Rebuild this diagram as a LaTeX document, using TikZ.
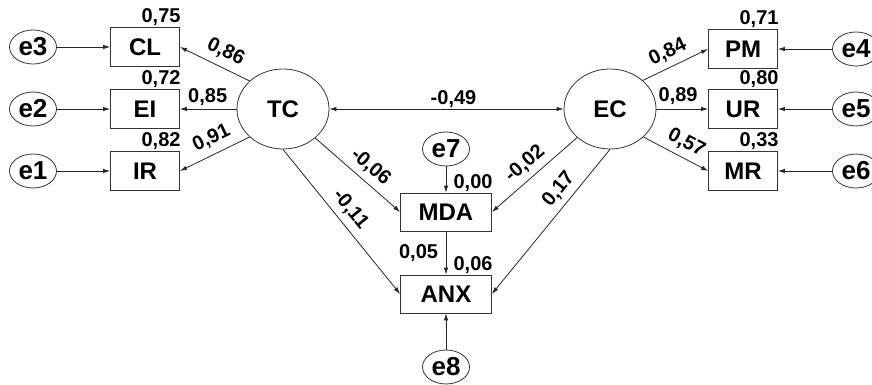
\documentclass[tikz,border=0pt]{standalone}
\usepackage{fontspec}
\setmainfont{Liberation Sans}
\usetikzlibrary{arrows.meta,shapes.geometric}

\begin{document}
\begin{tikzpicture}[x=1pt, y=-1pt, line width=0.8pt, arrows={-Latex[length=7pt,width=4.5pt]},
	obs/.style={draw=black!80, minimum width=69pt, minimum height=39pt, inner sep=0pt, font=\fontsize{24}{26}\selectfont\bfseries},
	wide/.style={obs, minimum width=91pt, minimum height=38pt},
	err/.style={draw=black!80, ellipse, minimum width=47pt, minimum height=34pt, inner sep=0pt, font=\fontsize{26}{28}\selectfont\bfseries},
	lat/.style={err, minimum width=92pt, minimum height=80pt, font=\fontsize{24}{26}\selectfont\bfseries},
	coef/.style={inner sep=1pt, font=\fontsize{20}{22}\selectfont\bfseries},
	r2/.style={coef, anchor=south east, xshift=2pt},
	lk/.style={draw=black!85}]
	\useasboundingbox (0,0) rectangle (872,385);

	% error terms and indicators
	\node[err] (e3) at (33,47) {e3};
	\node[err] (e2) at (33,109) {e2};
	\node[err] (e1) at (33,171) {e1};
	\node[obs] (CL) at (145,47) {CL};
	\node[obs] (EI) at (145,109) {EI};
	\node[obs] (IR) at (145,171) {IR};
	\node[obs] (PM) at (743,49) {PM};
	\node[obs] (UR) at (743,109) {UR};
	\node[obs] (MR) at (743,171) {MR};
	\node[err] (e4) at (856,49) {e4};
	\node[err] (e5) at (856,109) {e5};
	\node[err] (e6) at (856,171) {e6};

	% latent variables
	\node[lat] (TC) at (283,109) {TC};
	\node[lat] (EC) at (610,109) {EC};

	% mediator and outcome
	\node[err] (e7) at (446,149) {e7};
	\node[wide] (MDA) at (446,212) {MDA};
	\node[wide] (ANX) at (446,294) {ANX};
	\node[err] (e8) at (446,367) {e8};

	% squared multiple correlations
	\node[r2] (rCL) at (CL.north east) {0,75};
	\node[r2] (rEI) at (EI.north east) {0,72};
	\node[r2] (rIR) at (IR.north east) {0,82};
	\node[r2] (rPM) at (PM.north east) {0,71};
	\node[r2] (rUR) at (UR.north east) {0,80};
	\node[r2] (rMR) at (MR.north east) {0,33};
	\node[r2] (rMDA) at (MDA.north east) {0,00};
	\node[r2] (rANX) at (ANX.north east) {0,06};

	\draw[lk] (e3) to (CL);
	\draw[lk] (e2) to (EI);
	\draw[lk] (e1) to (IR);
	\draw[lk] (e4) to (PM);
	\draw[lk] (e5) to (UR);
	\draw[lk] (e6) to (MR);
	\draw[lk] (e7) to (MDA);
	\draw[lk] (e8) to (ANX);

	\draw[lk] (TC.140) to node [coef, sloped, above, pos=0.44, outer sep=6pt] (c86) {0,86} (CL.east);
	\draw[lk] (TC) to node [coef, above, pos=0.51, outer sep=2pt] (c85) {0,85} (EI);
	\draw[lk] (TC.220) to node [coef, sloped, above, pos=0.45, outer sep=6pt] (c91) {0,91} (IR.east);
	\draw[lk] (EC.41) to node [coef, sloped, above, pos=0.48, outer sep=5pt] (c84) {0,84} (PM.west);
	\draw[lk] (EC) to node [coef, above, pos=0.42, outer sep=3pt] (c89) {0,89} (UR);
	\draw[lk] (EC.-40) to node [coef, sloped, above, pos=0.56, outer sep=5pt] (c57) {0,57} (MR.west);

	\draw[lk, {Latex[length=7pt,width=4.5pt]}-{Latex[length=7pt,width=4.5pt]}] (TC) to node [coef, above, pos=0.53] (c49) {-0,49} (EC);

	\draw[lk] (TC.-42) to node [coef, sloped, above, pos=0.54, outer sep=5pt] (cTM) {-0,06} (MDA.west);
	\draw[lk] (TC.south) to node [coef, sloped, above, pos=0.48, outer sep=5pt] (cTA) {-0,11} (ANX.west);
	\draw[lk] (EC.221) to node [coef, sloped, above, pos=0.5, outer sep=5pt] (cEM) {-0,02} (MDA.east);
	\draw[lk] (EC.south) to node [coef, sloped, above, pos=0.34, outer sep=5pt] (cEA) {0,17} (ANX.east);
	\draw[lk] (MDA) to node [coef, left, pos=0.5, outer sep=7pt] (cMA) {0,05} (ANX);
\end{tikzpicture}
\end{document}
